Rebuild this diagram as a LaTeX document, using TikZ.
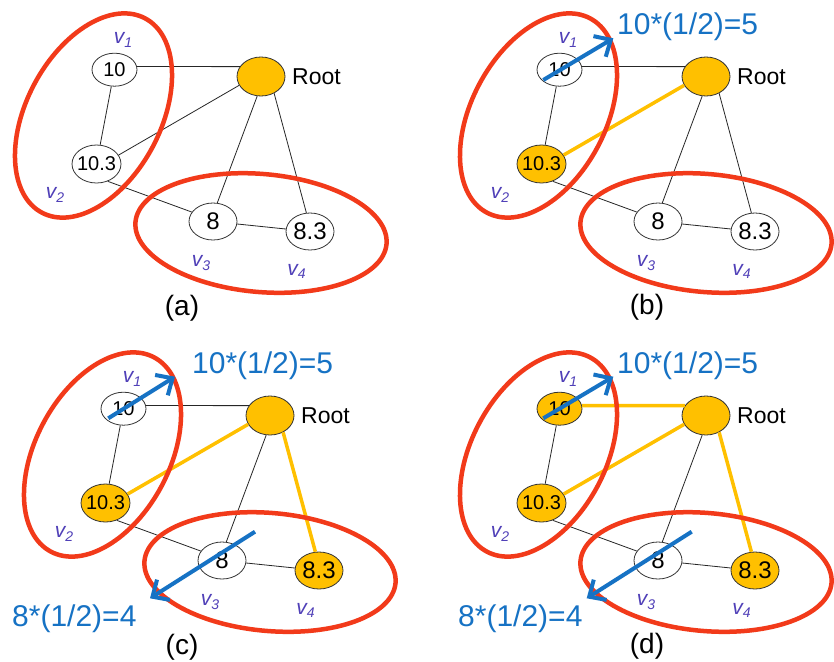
\documentclass[tikz,border=0pt]{standalone}
\usepackage{fontspec}
\setmainfont{Liberation Sans}
\usetikzlibrary{shapes.geometric,arrows.meta}
\definecolor{ringred}{HTML}{F23A1A}
\definecolor{gold}{HTML}{FFC000}
\definecolor{arrowblue}{HTML}{1672C4}
\definecolor{vlabel}{HTML}{5040B8}
\newcommand\vlab[1]{{\fontsize{21}{21}\selectfont\itshape v\raisebox{-0.35ex}{\fontsize{14}{14}\selectfont #1}}}
\newcommand\drawpanel[8]{%
\begin{scope}[shift={#2}]
\node[vert, minimum width=45pt, minimum height=33pt, fill=#3] (#1ten) at (114.5,69.7) {\makebox[0pt]{\fontsize{20}{20}\selectfont 10}};
\node[vert, minimum width=48pt, minimum height=39pt, fill=gold] (#1root) at (261,76.5) {};
\node[vert, minimum width=49pt, minimum height=38pt, fill=#4] (#1tt) at (96.5,164) {\makebox[0pt]{\fontsize{20}{20}\selectfont 10.3}};
\node[vert, fill=white] (#1e) at (213,221.5) {\makebox[0pt]{\fontsize{24}{24}\selectfont 8}};
\node[vert, fill=#5] (#1et) at (310,231.5) {\makebox[0pt]{\fontsize{24}{24}\selectfont 8.3}};
\node[anchor=west, inner sep=0pt, font=\fontsize{23}{23}\selectfont] (#1rl) at (292,77) {Root};
\node[vlabnode] (#1va) at (123,40) {\vlab{1}};
\node[vlabnode] (#1vb) at (55,195) {\vlab{2}};
\node[vlabnode] (#1vc) at (201,263) {\vlab{3}};
\node[vlabnode] (#1vd) at (296.5,271.5) {\vlab{4}};
\draw[#6] (#1ten.8) -- (#1root.155);
\draw[edge] (#1ten) -- (#1tt);
\draw[#7] (#1tt.22) -- (#1root.202);
\draw[edge] (#1tt.-57) -- (#1e.156);
\draw[edge] (#1root.259) -- (#1e.77);
\draw[#8] (#1root.-52) -- (#1et.101);
\draw[edge] (#1e) -- (#1et);
\draw[ring, rotate around={62:(93.5,115.5)}] (93.5,115.5) ellipse [x radius=110, y radius=67];
\draw[ring, rotate around={-5:(261,233)}] (261,233) ellipse [x radius=126, y radius=59];
\end{scope}}
\begin{document}
\begin{tikzpicture}[x=1pt,y=-1pt,
  vert/.style={ellipse, draw=black!80, line width=0.8pt, fill=white, inner sep=0pt, minimum width=48pt, minimum height=37pt},
  edge/.style={draw=black!85, line width=0.8pt},
  hot/.style={draw=gold, line width=3.5pt},
  ring/.style={draw=ringred, line width=4.5pt},
  bluearrow/.style={draw=arrowblue, line width=4pt, -{Straight Barb[length=13pt,width=24pt]}},
  bluetext/.style={text=arrowblue, inner sep=0pt, font=\fontsize{30}{30}\selectfont},
  vlabnode/.style={text=vlabel, inner sep=0pt},
  caption/.style={inner sep=0pt, font=\fontsize{28}{28}\selectfont}]
\useasboundingbox (0,0) rectangle (834,661);
\fill[white] (0,0) rectangle (834,661);
\drawpanel{a}{(0,0)}{white}{white}{white}{edge}{edge}{edge}
\drawpanel{b}{(445,0)}{white}{gold}{white}{edge}{hot}{edge}
\drawpanel{c}{(9,339)}{white}{gold}{gold}{edge}{hot}{hot}
\drawpanel{d}{(445,339)}{gold}{gold}{gold}{hot}{hot}{hot}
% captions
\node[caption] (capa) at (182,308) {(a)};
\node[caption] (capb) at (647,307) {(b)};
\node[caption] (capc) at (182,647) {(c)};
\node[caption] (capd) at (647,646) {(d)};
% blue arrows
\coordinate (bs) at (543.3,80);   \coordinate (bt) at (613.3,38.3);
\coordinate (cs) at (108.3,418.3); \coordinate (ct) at (175,376.7);
\coordinate (ds) at (543.3,418.3); \coordinate (dt) at (613.3,376.7);
\coordinate (cs2) at (255,531.7); \coordinate (ct2) at (150,598.3);
\coordinate (ds2) at (691.7,531.7); \coordinate (dt2) at (586.7,598.3);
\draw[bluearrow] (bs) -- (bt);
\draw[bluearrow] (cs) -- (ct);
\draw[bluearrow] (ds) -- (dt);
\draw[bluearrow] (cs2) -- (ct2);
\draw[bluearrow] (ds2) -- (dt2);
\node[bluetext, anchor=base west] (tb) at (617,35) {10*(1/2)=5};
\node[bluetext, anchor=base west] (tc) at (192,373.5) {10*(1/2)=5};
\node[bluetext, anchor=base west] (td) at (617,373.5) {10*(1/2)=5};
\node[bluetext, anchor=base west] (tc2) at (12,626.5) {8*(1/2)=4};
\node[bluetext, anchor=base west] (td2) at (458,626.5) {8*(1/2)=4};
\end{tikzpicture}
\end{document}
